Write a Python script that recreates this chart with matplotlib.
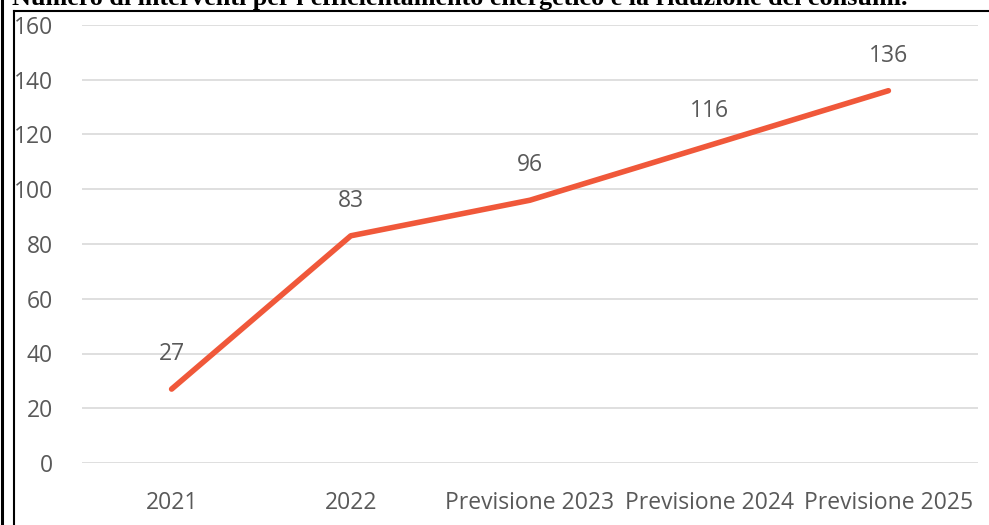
import matplotlib
matplotlib.use("Agg")
import matplotlib.pyplot as plt
from matplotlib.lines import Line2D

anni = ["2021", "2022", "Previsione 2023", "Previsione 2024", "Previsione 2025"]
interventi = [27, 83, 96, 116, 136]
yticks = [0, 20, 40, 60, 80, 100, 120, 140, 160]
titolo = "Numero di interventi per l'efficientamento energetico e la riduzione dei consumi."

W, H = 989, 525
fig = plt.figure(figsize=(W / 100, H / 100), dpi=100)
ax = fig.add_axes([82 / W, 62 / H, 896 / W, 438 / H])

x = list(range(len(anni)))
ax.plot(x, interventi, color="#F0583A", lw=4.0, solid_capstyle="round", clip_on=False, zorder=3)
for xi, v in zip(x, interventi):
    ax.annotate(str(v), (xi, v), xytext=(0, 25), textcoords="offset points",
                ha="center", va="center", fontsize=16.5, color="#595959", family="Open Sans")

ax.set_xlim(-0.5, len(anni) - 0.5)
ax.set_ylim(0, 160)
ax.set_yticks(yticks)
ax.set_xticks(x)
ax.set_xticklabels(anni)
ax.grid(axis="y", color="#D9D9D9", lw=1.2)
ax.set_axisbelow(True)
for s in ax.spines.values():
    s.set_visible(False)
ax.tick_params(length=0, labelsize=16.5, labelcolor="#595959")
ax.tick_params(axis="y", pad=21)
ax.tick_params(axis="x", pad=20)
for lab in ax.get_xticklabels() + ax.get_yticklabels():
    lab.set_family("Open Sans")

# titolo tagliato in alto e cornice
fig.text(12 / W, 1 - 5 / H, titolo, ha="left", va="baseline", fontsize=18.8,
         fontweight="bold", family="Liberation Serif", color="black")
fig.add_artist(Line2D([1.5 / W, 1.5 / W], [0, 1], color="black", lw=2.2))
fig.add_artist(Line2D([13.5 / W, 13.5 / W], [0, 1 - 10.5 / H], color="black", lw=1.5))
fig.add_artist(Line2D([13.5 / W, 1], [1 - 10.5 / H, 1 - 10.5 / H], color="black", lw=1.5))

fig.savefig("out.png", dpi=100)
